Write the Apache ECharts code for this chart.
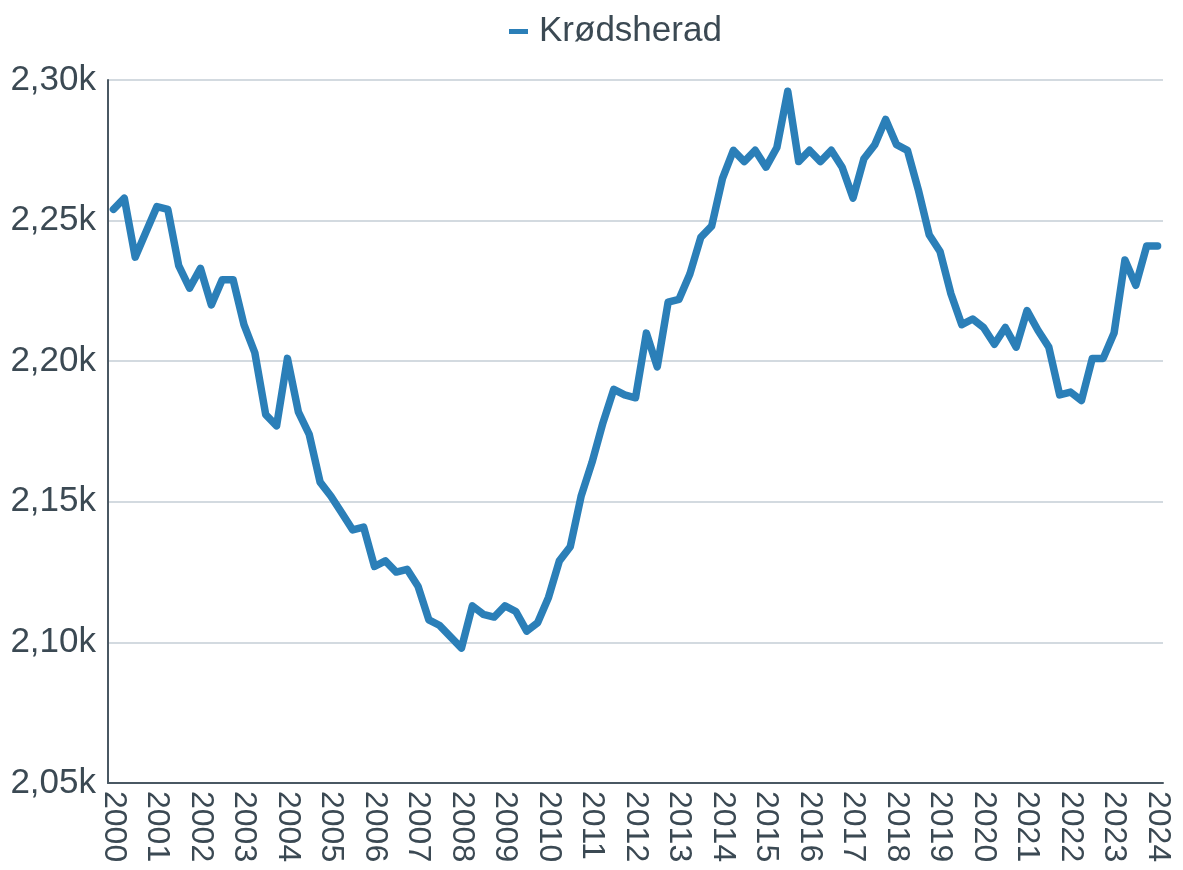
<!DOCTYPE html>
<html>
<head>
<meta charset="utf-8">
<script src="https://cdn.jsdelivr.net/npm/echarts@6/dist/echarts.min.js"></script>
<style>
  html, body { margin: 0; padding: 0; background: #ffffff; }
  #chart { width: 1183px; height: 870px; }
</style>
</head>
<body>
<div id="chart"></div>
<script>
// Quarterly categories 2000K1 .. 2024K1
const years = [];
for (let y = 2000; y <= 2024; y++) years.push(y);
const categories = [];
years.forEach(y => { for (let q = 1; q <= 4; q++) { if (y === 2024 && q > 1) break; categories.push(y + 'K' + q); } });

const seriesName = 'Krødsherad';
const values = [
  2254, 2258, 2237, 2246, 2255, 2254, 2234, 2226,
  2233, 2220, 2229, 2229, 2213, 2203, 2181, 2177,
  2201, 2182, 2174, 2157, 2152, 2146, 2140, 2141,
  2127, 2129, 2125, 2126, 2120, 2108, 2106, 2102,
  2098, 2113, 2110, 2109, 2113, 2111, 2104, 2107,
  2116, 2129, 2134, 2152, 2164, 2178, 2190, 2188,
  2187, 2210, 2198, 2221, 2222, 2231, 2244, 2248,
  2265, 2275, 2271, 2275, 2269, 2276, 2296, 2271,
  2275, 2271, 2275, 2269, 2258, 2272, 2277, 2286,
  2277, 2275, 2261, 2245, 2239, 2224, 2213, 2215,
  2212, 2206, 2212, 2205, 2218, 2211, 2205, 2188,
  2189, 2186, 2201, 2201, 2210, 2236, 2227, 2241,
  2241
];
const yTicks = [2050, 2100, 2150, 2200, 2250, 2300];

const textColor = '#3b4953';
const font = "'Liberation Sans', Arial, sans-serif";

const chart = echarts.init(document.getElementById('chart'), null, { renderer: 'canvas' });
chart.setOption({
  animation: false,
  backgroundColor: '#ffffff',
  legend: {
    data: [seriesName],
    top: 9,
    left: 504,
    icon: 'rect',
    itemWidth: 19,
    itemHeight: 5,
    textStyle: { fontFamily: font, fontSize: 35, color: textColor, padding: [0, 0, 0, 6] }
  },
  grid: { left: 108, right: 20, top: 80, bottom: 87, containLabel: false },
  xAxis: {
    type: 'category',
    data: categories,
    boundaryGap: true,
    axisLine: { show: true, lineStyle: { color: '#4a5863', width: 2 } },
    axisTick: { show: false },
    splitLine: { show: false },
    axisLabel: {
      interval: 3,
      rotate: -90,
      margin: 8,
      fontFamily: font,
      fontSize: 32,
      color: textColor,
      formatter: v => v.slice(0, 4)
    }
  },
  yAxis: {
    type: 'value',
    min: yTicks[0],
    max: yTicks[yTicks.length - 1],
    interval: 50,
    axisLine: { show: true, lineStyle: { color: '#4a5863', width: 2 } },
    axisTick: { show: false },
    splitLine: { show: true, lineStyle: { color: '#c5ced6', width: 1.5 } },
    axisLabel: {
      margin: 12,
      fontFamily: font,
      fontSize: 35,
      color: textColor,
      formatter: v => (v / 1000).toFixed(2).replace('.', ',') + 'k'
    }
  },
  series: [{
    name: seriesName,
    type: 'line',
    data: values,
    showSymbol: false,
    symbol: 'none',
    color: '#2b7fb8',
    lineStyle: { color: '#2b7fb8', width: 7.5, cap: 'round', join: 'round' }
  }]
});
</script>
</body>
</html>
